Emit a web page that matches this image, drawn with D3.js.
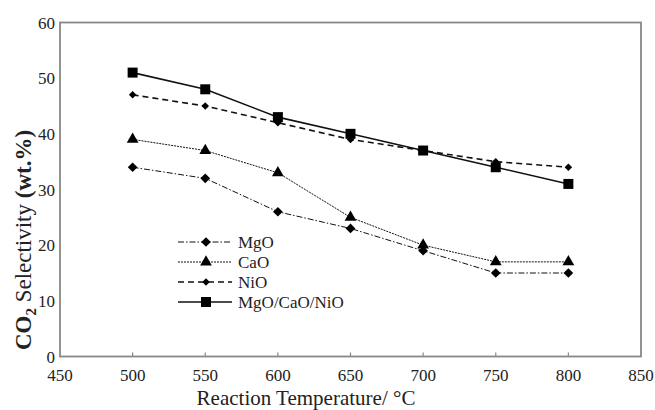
<!DOCTYPE html>
<meta charset="utf-8">
<script src="https://cdn.jsdelivr.net/npm/d3@7/dist/d3.min.js"></script>
<style>
    body { margin: 0; background: #fff; }
    text { font-family: "Liberation Serif", "Times New Roman", serif; fill: #222; }
</style>
<body>
<script>
    var temps = [500, 550, 600, 650, 700, 750, 800];
    var mgo = [34, 32, 26, 23, 19, 15, 15];
    var cao = [39, 37, 33, 25, 20, 17, 17];
    var nio = [47, 45, 42, 39, 37, 35, 34];
    var mix = [51, 48, 43, 40, 37, 34, 31];

    var xTicks = [450, 500, 550, 600, 650, 700, 750, 800, 850];
    var yTicks = [0, 10, 20, 30, 40, 50, 60];

    var width = 655, height = 410;
    var pLeft = 60, pRight = 641, pTop = 22.5, pBottom = 356.5;

    var svg = d3.select("body").append("svg")
        .attr("width", width)
        .attr("height", height);

    var x = d3.scaleLinear().domain([450, 850]).range([pLeft, pRight]);
    var y = d3.scaleLinear().domain([0, 60]).range([pBottom, pTop]);

    // frame
    svg.append("rect")
        .attr("x", pLeft).attr("y", pTop)
        .attr("width", pRight - pLeft).attr("height", pBottom - pTop)
        .style("fill", "none")
        .style("stroke", "#888")
        .style("stroke-width", 1.8);

    // x ticks, inward
    svg.selectAll(".xtick")
        .data(xTicks.slice(1, -1))
        .enter().append("line")
        .attr("x1", function(d) { return x(d); })
        .attr("x2", function(d) { return x(d); })
        .attr("y1", pBottom)
        .attr("y2", pBottom - 4)
        .style("stroke", "#888")
        .style("stroke-width", 1.2);

    svg.selectAll(".xlbl")
        .data(xTicks)
        .enter().append("text")
        .attr("x", function(d) { return x(d); })
        .attr("y", pBottom + 24)
        .attr("text-anchor", "middle")
        .style("font-size", "17px")
        .text(function(d) { return d; });

    svg.selectAll(".ylbl")
        .data(yTicks)
        .enter().append("text")
        .attr("x", pLeft - 5)
        .attr("y", function(d) { return y(d) + 6; })
        .attr("text-anchor", "end")
        .style("font-size", "17px")
        .text(function(d) { return d; });

    svg.append("text")
        .attr("x", 306)
        .attr("y", 405)
        .attr("text-anchor", "middle")
        .style("font-size", "21px")
        .text("Reaction Temperature/ \u00B0C");

    var yt = svg.append("text")
        .attr("transform", "translate(31,240) rotate(-90)")
        .attr("text-anchor", "middle")
        .style("font-size", "23px");
    yt.append("tspan").style("font-weight", "bold").text("CO");
    yt.append("tspan").style("font-weight", "bold").style("font-size", "15px").attr("dy", 5).text("2");
    yt.append("tspan").attr("dy", -5).text(" Selectivity ");
    yt.append("tspan").style("font-weight", "bold").text("(wt.%)");

    var series = [
        { name: "MgO", values: mgo, dash: "6,2,1.5,2", width: 1, shape: d3.symbolDiamond2, size: 60 },
        { name: "CaO", values: cao, dash: "2,1", width: 1, shape: d3.symbolTriangle, size: 60 },
        { name: "NiO", values: nio, dash: "6,4", width: 1.6, shape: d3.symbolDiamond2, size: 36 },
        { name: "MgO/CaO/NiO", values: mix, dash: null, width: 1.6, shape: d3.symbolSquare, size: 100 }
    ];

    var line = d3.line()
        .x(function(d, i) { return x(temps[i]); })
        .y(function(d) { return y(d); });

    series.forEach(function(s) {
        svg.append("path")
            .attr("d", line(s.values))
            .style("fill", "none")
            .style("stroke", "#111")
            .style("stroke-width", s.width)
            .style("stroke-dasharray", s.dash);

        svg.selectAll(null)
            .data(s.values)
            .enter().append("path")
            .attr("transform", function(d, i) { return "translate(" + x(temps[i]) + "," + y(d) + ")"; })
            .attr("d", d3.symbol().type(s.shape).size(s.size))
            .style("fill", "#000");
    });

    // legend
    var legend = svg.append("g");
    series.forEach(function(s, i) {
        var ly = 242 + i * 20;
        legend.append("line")
            .attr("x1", 178).attr("x2", 232)
            .attr("y1", ly).attr("y2", ly)
            .style("stroke", "#111")
            .style("stroke-width", s.width)
            .style("stroke-dasharray", s.dash);
        legend.append("path")
            .attr("transform", "translate(206," + ly + ")")
            .attr("d", d3.symbol().type(s.shape).size(s.size))
            .style("fill", "#000");
        legend.append("text")
            .attr("x", 238)
            .attr("y", ly + 6)
            .style("font-size", "17px")
            .text(s.name);
    });
</script>
</body>
